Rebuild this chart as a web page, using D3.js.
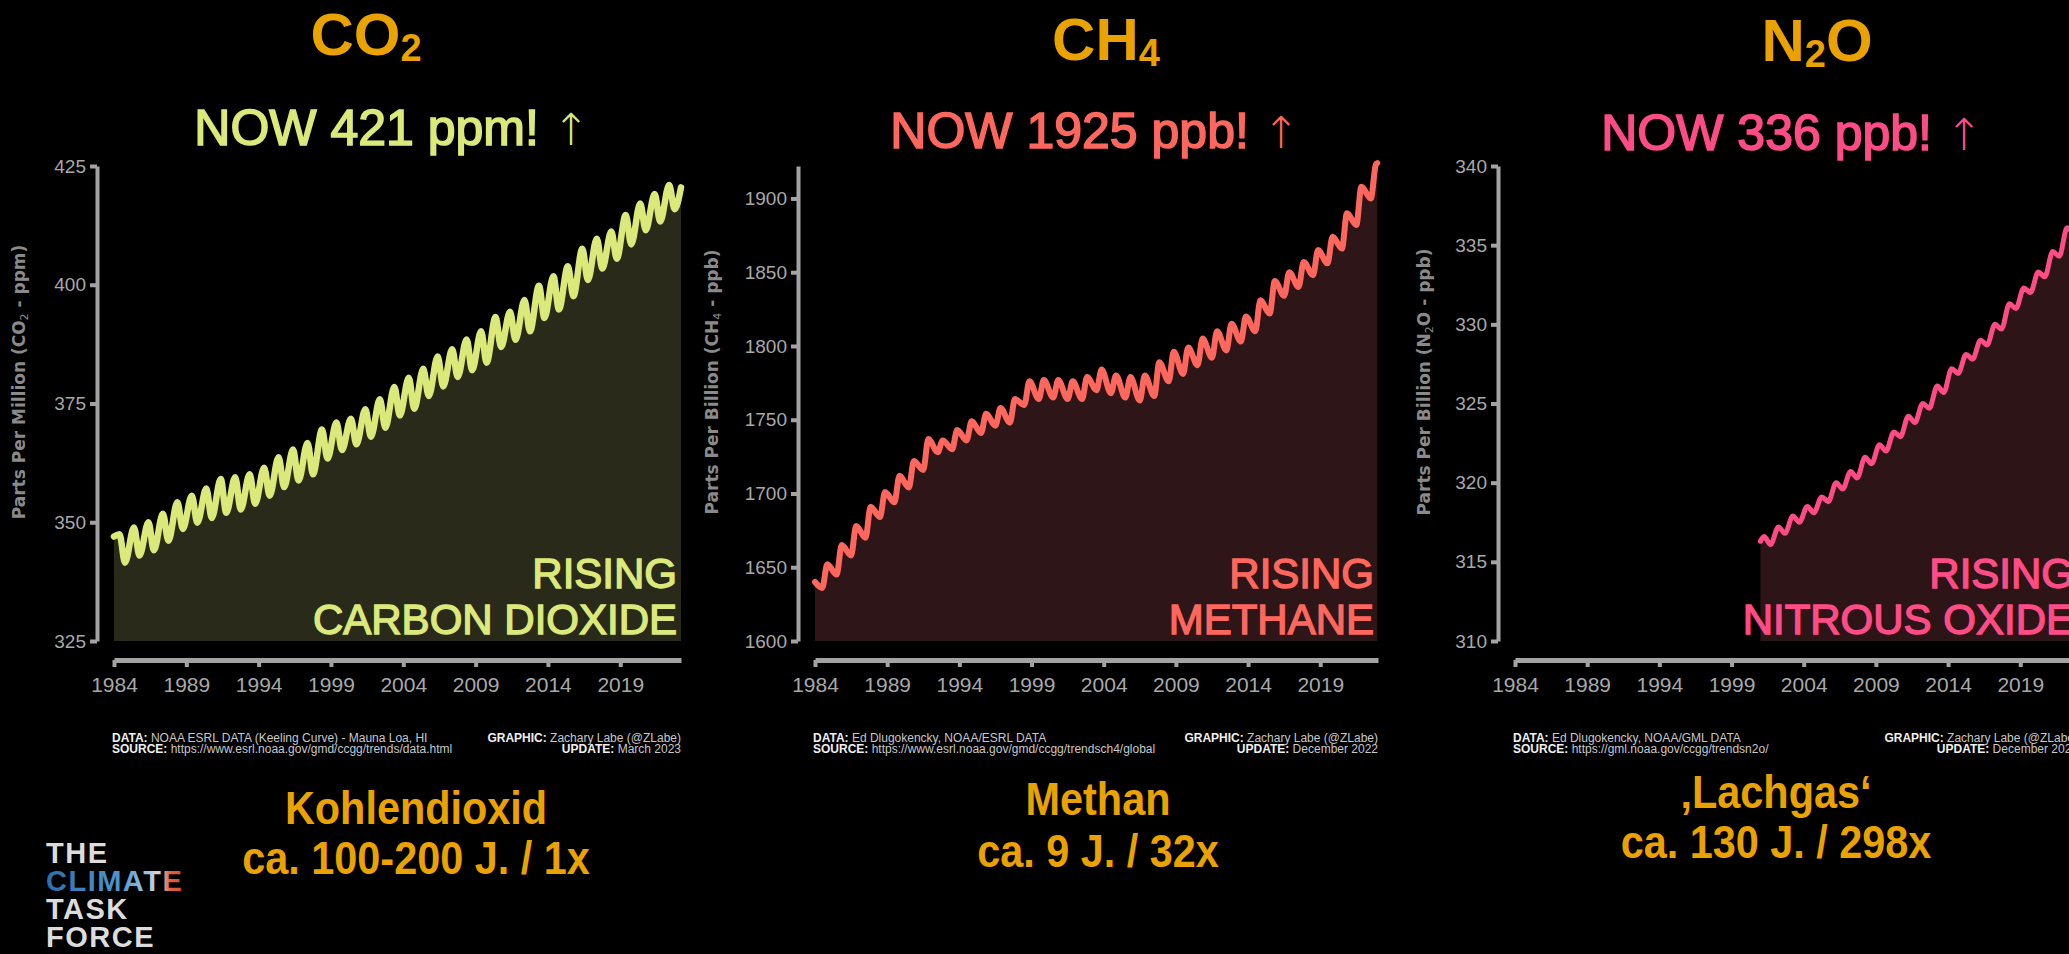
<!DOCTYPE html>
<html>
<head>
<meta charset="utf-8">
<script src="https://cdn.jsdelivr.net/npm/d3@7"></script>
<style>
  body { margin: 0; background: #000; }
  svg { display: block; }
  .tick text { font-family: "Liberation Sans", Arial, sans-serif; fill: #a8a8a8; }
</style>
</head>
<body>
<svg id="chart" width="2069" height="954"></svg>
<script>
// ---- data ----
const tickYears = [1984, 1989, 1994, 1999, 2004, 2009, 2014, 2019];
const cycleYears = [1984, 1985, 1986, 1987, 1988, 1989, 1990, 1991, 1992, 1993,
                    1994, 1995, 1996, 1997, 1998, 1999, 2000, 2001, 2002, 2003,
                    2004, 2005, 2006, 2007, 2008, 2009, 2010, 2011, 2012, 2013,
                    2014, 2015, 2016, 2017, 2018, 2019, 2020, 2021, 2022];

// CO2 (ppm): May maximum and autumn minimum of each year
const co2Peak = [347.5, 348.9, 350.0, 351.8, 354.2, 355.6, 357.1, 359.1, 359.5, 360.1,
                 361.5, 363.7, 365.3, 366.7, 369.5, 371.0, 371.8, 373.8, 375.9, 378.5,
                 380.4, 382.3, 384.9, 386.4, 388.5, 390.2, 393.2, 394.3, 396.8, 399.8,
                 401.8, 403.9, 407.6, 409.7, 411.2, 414.7, 417.1, 419.1, 421.0];
const co2Trough = [341.5, 343.0, 344.1, 346.1, 348.6, 349.9, 350.9, 352.0, 352.7, 353.9,
                   355.6, 357.4, 358.8, 360.1, 363.4, 365.2, 366.4, 368.0, 369.9, 372.5,
                   373.9, 376.6, 378.6, 380.6, 382.0, 383.6, 386.9, 388.4, 390.2, 393.0,
                   394.8, 397.6, 401.0, 403.4, 405.5, 408.5, 411.5, 413.3, 415.9];
const co2Ends = [[1984.0, 347.0], [2023.2, 420.5]];

// CH4 (ppb): winter maximum and summer minimum of each year
const ch4Peak = [1652, 1665, 1678, 1691, 1701, 1712, 1722, 1737, 1736, 1743,
                 1749, 1754, 1758, 1764, 1776, 1777, 1777, 1776, 1779, 1784,
                 1780, 1779, 1780, 1789, 1796, 1799, 1805, 1810, 1815, 1820,
                 1831, 1844, 1850, 1857, 1865, 1874, 1890, 1908, 1923];
const ch4Trough = [1636, 1645, 1658, 1670, 1684, 1694, 1704, 1716, 1728, 1730,
                   1736, 1741, 1746, 1748, 1760, 1764, 1765, 1764, 1764, 1770,
                   1768, 1765, 1763, 1766, 1776, 1781, 1787, 1792, 1797, 1803,
                   1810, 1822, 1834, 1840, 1848, 1856, 1866, 1882, 1900];
const ch4Ends = [[1984.0, 1640], [2022.95, 1924]];

// N2O (ppb), record starts 2001
const n2oYears = [2001, 2002, 2003, 2004, 2005, 2006, 2007, 2008, 2009, 2010, 2011,
                  2012, 2013, 2014, 2015, 2016, 2017, 2018, 2019, 2020, 2021, 2022];
const n2oPeak = [316.6, 317.2, 317.9, 318.5, 319.1, 320.0, 320.7, 321.6, 322.4, 323.2, 324.2,
                 325.0, 326.1, 327.2, 328.1, 329.0, 330.0, 331.3, 332.3, 333.3, 334.6, 336.1];
const n2oTrough = [316.1, 316.8, 317.5, 318.1, 318.8, 319.6, 320.3, 321.2, 322.0, 322.9, 323.8,
                   324.7, 325.7, 326.9, 327.8, 328.7, 329.7, 331.0, 332.0, 333.0, 334.3, 335.8];
const n2oEnds = [[2001.0, 316.3], [2022.95, 336.3]];

const co2Ticks = [325, 350, 375, 400, 425];
const ch4Ticks = [1600, 1650, 1700, 1750, 1800, 1850, 1900];
const n2oTicks = [310, 315, 320, 325, 330, 335, 340];

function buildSeries(years, peak, trough, ends, peakPhase, troughPhase) {
  const pts = [{ t: ends[0][0], v: ends[0][1] }];
  years.forEach((yr, i) => {
    pts.push({ t: yr + peakPhase, v: peak[i] });
    pts.push({ t: yr + troughPhase, v: trough[i] });
  });
  pts.push({ t: ends[1][0], v: ends[1][1] });
  return pts.sort((a, b) => a.t - b.t);
}

const panels = [
  {
    title: ["CO", "2", ""], now: "NOW 421 ppm! ", color: "#dbe97b", fill: "#292a1a",
    series: buildSeries(cycleYears, co2Peak, co2Trough, co2Ends, 0.38, 0.76),
    xEnd: 2023.2, yDomain: [325, 425], ticks: co2Ticks, lw: 6.5,
    L: 114, R: 681, titleX: 366, titleY: 55, nowX: 392, nowY: 145, yTitleX: 25,
    yTitle: ["Parts Per Million (CO", "2", " - ppm)"],
    label: ["RISING", "CARBON DIOXIDE"],
    foot: [["DATA:", " NOAA ESRL DATA (Keeling Curve) - Mauna Loa, HI"],
           ["SOURCE:", " https://www.esrl.noaa.gov/gmd/ccgg/trends/data.html"],
           ["GRAPHIC:", " Zachary Labe (@ZLabe)"], ["UPDATE:", " March 2023"]],
    caption: ["Kohlendioxid", "ca. 100-200 J. / 1x"], capX: 416, capY: [824, 874]
  },
  {
    title: ["CH", "4", ""], now: "NOW 1925 ppb! ", color: "#fd675d", fill: "#2e1517",
    series: buildSeries(cycleYears, ch4Peak, ch4Trough, ch4Ends, 0.85, 0.5),
    xEnd: 2023.0, yDomain: [1600, 1922], ticks: ch4Ticks, lw: 6,
    L: 815, R: 1378, titleX: 1106, titleY: 60, nowX: 1095, nowY: 148, yTitleX: 718,
    yTitle: ["Parts Per Billion (CH", "4", " - ppb)"],
    label: ["RISING", "METHANE"],
    foot: [["DATA:", " Ed Dlugokencky, NOAA/ESRL DATA"],
           ["SOURCE:", " https://www.esrl.noaa.gov/gmd/ccgg/trendsch4/global"],
           ["GRAPHIC:", " Zachary Labe (@ZLabe)"], ["UPDATE:", " December 2022"]],
    caption: ["Methan", "ca. 9 J. / 32x"], capX: 1098, capY: [815, 867]
  },
  {
    title: ["N", "2", "O"], now: "NOW 336 ppb! ", color: "#fd4c86", fill: "#2d1417",
    series: buildSeries(n2oYears, n2oPeak, n2oTrough, n2oEnds, 0.25, 0.7),
    xEnd: 2023.0, yDomain: [310, 340], ticks: n2oTicks, lw: 5,
    L: 1515, R: 2078, titleX: 1817, titleY: 61, nowX: 1792, nowY: 150, yTitleX: 1430,
    yTitle: ["Parts Per Billion (N", "2", "O - ppb)"],
    label: ["RISING", "NITROUS OXIDE"],
    foot: [["DATA:", " Ed Dlugokencky, NOAA/GML DATA"],
           ["SOURCE:", " https://gml.noaa.gov/ccgg/trendsn2o/"],
           ["GRAPHIC:", " Zachary Labe (@ZLabe)"], ["UPDATE:", " December 2022"]],
    caption: ["\u201ALachgas\u2018", "ca. 130 J. / 298x"], capX: 1776, capY: [808, 858]
  }
];

const svg = d3.select("#chart");
svg.append("rect").attr("width", 2069).attr("height", 954).attr("fill", "#000");

const orange = "#e9a200";
const plotTop = 166, plotBottom = 641, xAxisY = 660;

panels.forEach(p => {
  const g = svg.append("g");
  const x = d3.scaleLinear().domain([1984, p.xEnd]).range([p.L, p.R]);
  const y = d3.scaleLinear().domain(p.yDomain).range([plotBottom, plotTop]);

  // title with subscript
  const t = g.append("text")
    .attr("x", p.titleX).attr("y", p.titleY)
    .attr("text-anchor", "middle")
    .attr("font-family", "'Liberation Sans', Arial, sans-serif")
    .attr("font-weight", "bold").attr("font-size", 60).attr("fill", orange);
  t.append("tspan").text(p.title[0]);
  t.append("tspan").attr("font-size", 38).attr("dy", 6).text(p.title[1]);
  t.append("tspan").attr("dy", -6).text(p.title[2]);

  // NOW line
  const n = g.append("text")
    .attr("x", p.nowX).attr("y", p.nowY)
    .attr("text-anchor", "middle")
    .attr("font-family", "'Liberation Sans', Arial, sans-serif")
    .attr("font-size", 50).attr("fill", p.color);
  n.append("tspan").attr("stroke", p.color).attr("stroke-width", 1.6).text(p.now);
  n.append("tspan").attr("font-family", "'DejaVu Sans', sans-serif").attr("font-weight", 200)
    .attr("font-size", 44).text("\u2191");

  // area + line
  const area = d3.area().x(d => x(d.t)).y0(plotBottom).y1(d => y(d.v)).curve(d3.curveMonotoneX);
  const line = d3.line().x(d => x(d.t)).y(d => y(d.v)).curve(d3.curveMonotoneX);
  g.append("path").datum(p.series).attr("d", area).attr("fill", p.fill);
  g.append("path").datum(p.series).attr("d", line)
    .attr("fill", "none").attr("stroke", p.color).attr("stroke-width", p.lw)
    .attr("stroke-linejoin", "round").attr("stroke-linecap", "round");

  // RISING label
  const lab = g.append("g")
    .attr("font-family", "'Liberation Sans', Arial, sans-serif")
    .attr("font-size", 42).attr("fill", p.color).attr("text-anchor", "end")
    .attr("stroke", p.color).attr("stroke-width", 1.4);
  lab.append("text").attr("x", p.R - 4).attr("y", 588).text(p.label[0]);
  lab.append("text").attr("x", p.R - 4).attr("y", 634).text(p.label[1]);

  // y axis
  const yAxis = g.append("g")
    .attr("transform", `translate(${p.L - 17},0)`)
    .call(d3.axisLeft(y).tickValues(p.ticks).tickFormat(d3.format("d"))
      .tickSize(7).tickSizeOuter(0).tickPadding(4));
  yAxis.select(".domain").attr("stroke", "#a3a3a3").attr("stroke-width", 4);
  yAxis.selectAll(".tick line").attr("stroke", "#a3a3a3").attr("stroke-width", 4);
  yAxis.selectAll(".tick text").attr("font-size", 19);

  // x axis
  const xAxis = g.append("g")
    .attr("transform", `translate(0,${xAxisY})`)
    .call(d3.axisBottom(x).tickValues(tickYears).tickFormat(d3.format("d"))
      .tickSize(7).tickSizeOuter(0).tickPadding(10));
  xAxis.select(".domain").attr("stroke", "#a3a3a3").attr("stroke-width", 5);
  xAxis.selectAll(".tick line").attr("stroke", "#a3a3a3").attr("stroke-width", 4);
  xAxis.selectAll(".tick text").attr("font-size", 21);

  // y axis title
  const yt = g.append("text")
    .attr("transform", `translate(${p.yTitleX},382) rotate(-90)`)
    .attr("text-anchor", "middle")
    .attr("font-family", "'DejaVu Sans', sans-serif").attr("font-weight", "bold")
    .attr("font-size", 17).attr("fill", "#8a8a8a");
  yt.append("tspan").text(p.yTitle[0]);
  yt.append("tspan").attr("font-size", 11).attr("font-weight", "normal").attr("dy", 3).text(p.yTitle[1]);
  yt.append("tspan").attr("dy", -3).text(p.yTitle[2]);

  // footnotes
  const fn = g.append("g")
    .attr("font-family", "'Liberation Sans', Arial, sans-serif")
    .attr("font-size", 12).attr("fill", "#c8c8c8");
  [[p.foot[0], p.L - 2, 742, "start"], [p.foot[1], p.L - 2, 753, "start"],
   [p.foot[2], p.R, 742, "end"], [p.foot[3], p.R, 753, "end"]].forEach(([f, fx, fy, anchor]) => {
    const ft = fn.append("text").attr("x", fx).attr("y", fy).attr("text-anchor", anchor);
    ft.append("tspan").attr("font-weight", "bold").attr("fill", "#f0f0f0").text(f[0]);
    ft.append("tspan").text(f[1]);
  });

  // caption below (condensed bold)
  const cap = g.append("g")
    .attr("font-family", "'Liberation Sans', Arial, sans-serif")
    .attr("font-weight", "bold").attr("font-size", 46)
    .attr("fill", orange).attr("text-anchor", "middle");
  p.caption.forEach((c, i) => {
    cap.append("text")
      .attr("transform", `translate(${p.capX},${p.capY[i]}) scale(0.9,1)`)
      .text(c);
  });
});

// logo
const defs = svg.append("defs");
const grad = defs.append("linearGradient").attr("id", "climateGrad")
  .attr("gradientUnits", "userSpaceOnUse").attr("x1", 46).attr("x2", 194).attr("y1", 0).attr("y2", 0);
[[0, "#2a6fae"], [0.5, "#4f95cf"], [0.66, "#8fbde0"], [0.76, "#d6d6d6"], [0.84, "#e0603a"], [1, "#c9432a"]]
  .forEach(([o, c]) => grad.append("stop").attr("offset", o).attr("stop-color", c));
const logo = svg.append("g")
  .attr("font-family", "'Liberation Sans', Arial, sans-serif")
  .attr("font-weight", "bold").attr("font-size", 29).attr("letter-spacing", 1.5);
logo.append("text").attr("x", 46).attr("y", 863).attr("fill", "#dcdcdc").text("THE");
logo.append("text").attr("x", 46).attr("y", 891).attr("fill", "url(#climateGrad)").text("CLIMATE");
logo.append("text").attr("x", 46).attr("y", 919).attr("fill", "#dcdcdc").text("TASK");
logo.append("text").attr("x", 46).attr("y", 947).attr("fill", "#dcdcdc").text("FORCE");
</script>
</body>
</html>
